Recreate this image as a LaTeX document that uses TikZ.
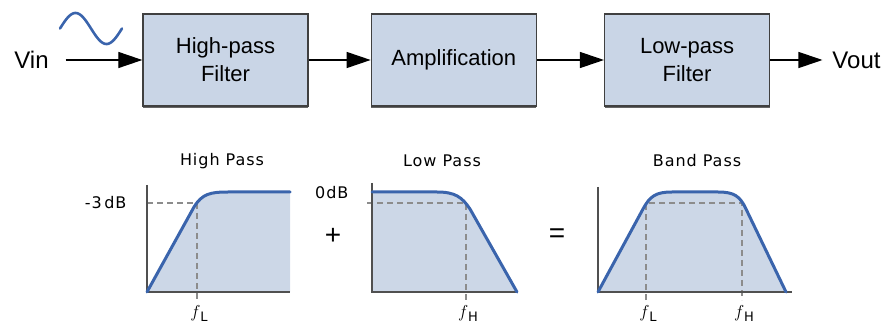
\documentclass[tikz,border=0pt]{standalone}
\usepackage{fontspec}
\setmainfont{Liberation Sans}
\newfontfamily\plotfont[LetterSpace=6]{DejaVu Sans}
\usetikzlibrary{arrows.meta,positioning,shadows}
\definecolor{boxgray}{RGB}{64,64,64}
\definecolor{boxfill}{RGB}{201,213,230}
\definecolor{curveblue}{RGB}{58,100,172}
\definecolor{areafill}{RGB}{204,215,231}
\definecolor{axisgray}{RGB}{80,80,80}
\definecolor{dashgray}{RGB}{140,140,140}

\begin{document}
\begin{tikzpicture}[x=1pt,y=-1pt,
  filt/.style={rectangle, draw=boxgray, fill=boxfill, line width=1.3pt, align=center,
               minimum width=165pt, minimum height=92pt, font=\fontsize{22}{28}\selectfont,
               drop shadow={shadow xshift=0pt, shadow yshift=-2pt, fill=boxgray, opacity=0.8}},
  sig/.style={inner sep=0pt, font=\fontsize{24}{28}\selectfont},
  arr/.style={-{Triangle[length=24pt, width=16pt]}, line width=1.2pt, black},
  wave/.style={curveblue, line width=2.6pt, line cap=round},
  resp/.style={curveblue, line width=3pt, line cap=round, line join=round},
  area/.style={fill=areafill},
  axis/.style={axisgray, line width=1.4pt},
  guide/.style={dashgray, line width=1.1pt, dash pattern=on 6pt off 4pt},
  ttl/.style={font=\plotfont\fontsize{16}{18}\selectfont},
  lvl/.style={font=\plotfont\fontsize{16}{18}\selectfont, anchor=east},
  freq/.style={font=\fontsize{18}{20}\selectfont},
  op/.style={font=\fontsize{28}{30}\selectfont}
]
\useasboundingbox (0,0) rectangle (889,323);

% signal chain
\node[filt] (hp) at (225.5,60) {High-pass\\Filter};
\node[filt, right=62pt of hp] (amp) {Amplification};
\node[filt, right=67pt of amp] (lp) {Low-pass\\Filter};
\node[sig, outer xsep=17pt] (vin) at (31.5,60) {Vin};
\node[sig, outer xsep=10pt] (vout) at (856.5,60) {Vout};

\draw[arr] (vin) -- (hp);
\draw[arr] (hp) -- (amp);
\draw[arr] (amp) -- (lp);
\draw[arr] (lp) -- (vout);

\draw[wave] plot[domain=0:360, samples=60] ({60+\x/360*62}, {28.5-15.5*sin(\x)});

% high pass response
\fill[area] (147,292) -- (194,207) .. controls (202,194) and (210,192) .. (228,192) -- (290,192) -- (290,292) -- cycle;
\draw[guide] (147,203) -- (197,203) -- (197,300);
\draw[axis] (147,185) -- (147,292) -- (290,292);
\draw[resp] (147,292) -- (194,207) .. controls (202,194) and (210,192) .. (228,192) -- (290,192);
\node[ttl] (hpt) at (222,161) {High Pass};
\node[lvl] (m3db) at (130,203) {-3\,dB};
\node[freq] (fl1) at (199,313) {$f$\raisebox{-4pt}{\plotfont\fontsize{13}{14}\selectfont L}};

% low pass response
\fill[area] (372,192) -- (437,192) .. controls (455,192) and (462,197) .. (470,209) -- (517,292) -- (372,292) -- cycle;
\draw[guide] (367,203) -- (466,203) -- (466,300);
\draw[axis] (372,183) -- (372,292) -- (518,292);
\draw[resp] (372,192) -- (437,192) .. controls (455,192) and (462,197) .. (470,209) -- (517,292);
\node[ttl] (lpt) at (442,161) {Low Pass};
\node[lvl] (z0db) at (352,193) {0dB};
\node[freq] (fh1) at (468,313) {$f$\raisebox{-4pt}{\plotfont\fontsize{13}{14}\selectfont H}};
\node[op] (plus) at (333,236) {+};

% band pass response
\fill[area] (598,292) -- (643,209) .. controls (650,196) and (656,192) .. (672,192) -- (718,192) .. controls (734,192) and (740,196) .. (746,209) -- (786,292) -- cycle;
\draw[guide] (646,300) -- (646,203) -- (742,203) -- (742,300);
\draw[axis] (598,187) -- (598,292) -- (792,292);
\draw[resp] (598,292) -- (643,209) .. controls (650,196) and (656,192) .. (672,192) -- (718,192) .. controls (734,192) and (740,196) .. (746,209) -- (786,292);
\node[ttl] (bpt) at (697,161) {Band Pass};
\node[freq] (fl2) at (648,313) {$f$\raisebox{-4pt}{\plotfont\fontsize{13}{14}\selectfont L}};
\node[freq] (fh2) at (744,313) {$f$\raisebox{-4pt}{\plotfont\fontsize{13}{14}\selectfont H}};
\node[op] (equal) at (557,236) {=};
\end{tikzpicture}
\end{document}
